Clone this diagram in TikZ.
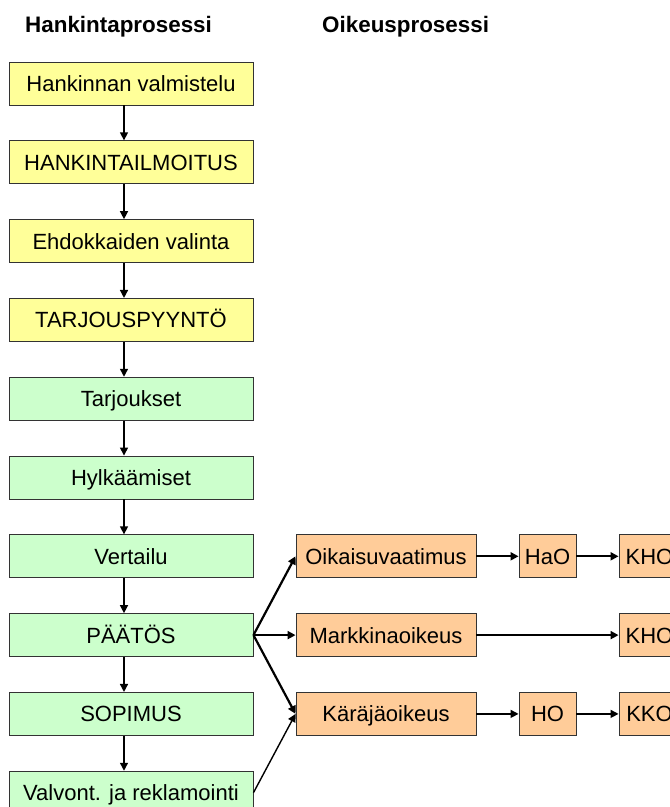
\documentclass[tikz,border=0pt]{standalone}
\usepackage{fontspec}
\setmainfont{Liberation Sans}
\usetikzlibrary{arrows.meta}
\definecolor{boxyellow}{HTML}{FFFF99}
\definecolor{boxgreen}{HTML}{CCFFCC}
\definecolor{boxorange}{HTML}{FFCC99}
\definecolor{boxline}{HTML}{333333}
\begin{document}
\begin{tikzpicture}[x=1pt,y=-1pt,
  box/.style={draw=boxline, line width=0.9pt, minimum height=43pt, inner sep=0pt,
    text height=18pt, text depth=2pt,
    font=\fontsize{22}{26}\selectfont},
  procbox/.style={box, minimum width=244pt},
  ybox/.style={procbox, fill=boxyellow},
  gbox/.style={procbox, fill=boxgreen},
  obox/.style={box, fill=boxorange},
  title/.style={anchor=base west, inner sep=0pt, font=\fontsize{22.4}{26}\selectfont\bfseries},
  flow/.style={-{Triangle[length=8pt,width=8pt]}, line width=1.4pt},
  court/.style={-{Triangle[length=8pt,width=8pt]}, line width=2.2pt},
  courtthin/.style={-{Triangle[length=8pt,width=8pt]}, line width=1.4pt}]
\useasboundingbox (0,0) rectangle (670,807);
\clip (0,0) rectangle (670,807);
\fill[white] (0,0) rectangle (670,807);

\node[title] (t1) at (25,32) {Hankintaprosessi};
\node[title] (t2) at (322,32) {Oikeusprosessi};

\node[ybox] (b1) at (131,83.5) {Hankinnan valmistelu};
\node[ybox] (b2) at (131,162.3) {HANKINTAILMOITUS};
\node[ybox] (b3) at (131,241.1) {Ehdokkaiden valinta};
\node[ybox] (b4) at (131,319.9) {TARJOUSPYYNTÖ};
\node[gbox] (b5) at (131,398.7) {Tarjoukset};
\node[gbox] (b6) at (131,477.5) {Hylkäämiset};
\node[gbox] (b7) at (131,556.3) {Vertailu};
\node[gbox] (b8) at (131,635.1) {PÄÄTÖS};
\node[gbox] (b9) at (131,713.9) {SOPIMUS};
\node[gbox] (b10) at (131,792.7) {Valvont. ja reklamointi};

\coordinate (ax) at (124,0);
\foreach \a/\b in {b1/b2,b2/b3,b3/b4,b4/b5,b5/b6,b6/b7,b7/b8,b8/b9,b9/b10}
  \draw[flow] (\a.south -| ax) -- (\b.north -| ax);

\node[obox, minimum width=180pt] (o1) at (386,556.3) {Oikaisuvaatimus};
\node[obox, minimum width=57pt] (o2) at (547.5,556.3) {HaO};
\node[obox, minimum width=61pt] (o3) at (649.5,556.3) {KHO};
\node[obox, minimum width=180pt] (m1) at (386,635.1) {Markkinaoikeus};
\node[obox, minimum width=61pt] (m2) at (649.5,635.1) {KHO};
\node[obox, minimum width=180pt] (k1) at (386,713.9) {Käräjäoikeus};
\node[obox, minimum width=57pt] (k2) at (547.5,713.9) {HO};
\node[obox, minimum width=61pt] (k3) at (649.5,713.9) {KKO};

\draw[court] (b8.east) -- (o1.west);
\draw[court] (b8.east) -- (m1.west);
\draw[court] (b8.east) -- (k1.west);
\draw[courtthin] (b10.east) -- (k1.west);

\draw[court] (o1) -- (o2);
\draw[court] (o2) -- (o3);
\draw[court] (m1) -- (m2);
\draw[courtthin] (k1) -- (k2);
\draw[courtthin] (k2) -- (k3);
\end{tikzpicture}
\end{document}
